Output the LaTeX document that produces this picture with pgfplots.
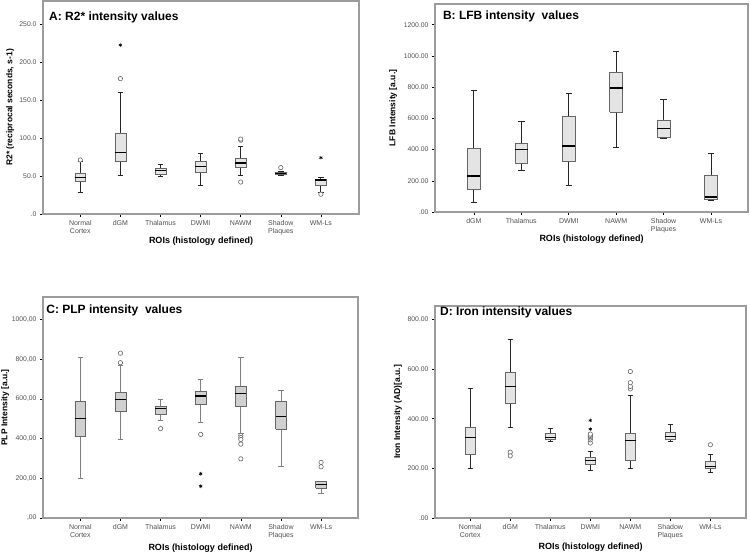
\documentclass[border=0pt]{standalone}
\usepackage{pgfplots}
\pgfplotsset{compat=1.18}
\usepackage{fontspec}
\setmainfont{Liberation Sans}
\definecolor{boxA}{HTML}{E4E4E4}
\definecolor{boxC}{HTML}{D0D0D0}
\definecolor{frame}{HTML}{9C9C9C}
\definecolor{tlab}{HTML}{505050}
\pgfplotsset{
  panel/.style={scale only axis, anchor=south west,
    axis line style={draw=frame, line width=1.3pt},
    tick align=outside, tick pos=left,
    major tick length=3pt, tick style={black, line width=0.5pt},
    /pgf/number format/assume math mode=true,
    xticklabel style={align=center, font=\fontsize{7}{7.6}\selectfont, text=tlab},
    yticklabel style={font=\fontsize{6.8}{7.4}\selectfont, text=tlab},
    xlabel style={font=\fontsize{9}{10}\selectfont\bfseries, anchor=center},
    ylabel style={font=\fontsize{8.5}{10}\selectfont\bfseries, anchor=center},
  },
  Awhisk/.style={draw=black!85, line width=1pt, mark=none},
  Cwhisk/.style={draw=black!50, line width=0.7pt, mark=none},
  Abox/.style={draw=black!60, fill=boxA, line width=0.6pt, mark=none, line join=miter},
  Cbox/.style={draw=black!60, fill=boxC, line width=0.6pt, mark=none, line join=miter},
  med/.style={draw=black, line width=1.3pt, mark=none},
  circ/.style={only marks, mark=*, mark size=2.2pt, mark options={draw=black!60, fill=white, line width=0.6pt}},
  star/.style={only marks, mark=asterisk, mark size=1.8pt, mark options={draw=black, line width=0.6pt}},
}
% #1 style prefix, #2 position, #3 lower whisker, #4 Q1, #5 median, #6 Q3, #7 upper whisker
\newcommand{\bx}[7]{%
  \pgfmathsetmacro\xl{#2-0.135}\pgfmathsetmacro\xr{#2+0.135}%
  \pgfmathsetmacro\wl{#2-0.068}\pgfmathsetmacro\wr{#2+0.068}%
  \edef\tmp{%
    \noexpand\addplot[#1whisk] coordinates {(#2,#3) (#2,#4)};
    \noexpand\addplot[#1whisk] coordinates {(#2,#6) (#2,#7)};
    \noexpand\addplot[#1whisk] coordinates {(\wl,#3) (\wr,#3)};
    \noexpand\addplot[#1whisk] coordinates {(\wl,#7) (\wr,#7)};
    \noexpand\addplot[#1box] coordinates {(\xl,#4) (\xr,#4) (\xr,#6) (\xl,#6) (\xl,#4)};
    \noexpand\addplot[med] coordinates {(\xl,#5) (\xr,#5)};
  }\tmp}
\begin{document}
\begin{tikzpicture}
\useasboundingbox (0,0) rectangle (750pt,553pt);
% ---------------- A
\begin{axis}[panel, at={(43pt,339pt)}, width=316pt, height=213pt,
  xmin=0.07, xmax=7.95, ymin=0, ymax=280,
  xtick={1,...,7}, xticklabels={{Normal\\Cortex},dGM,Thalamus,DWMI,NAWM,{Shadow\\Plaques},WM-Ls},
  ytick={0,50,...,250}, yticklabels={.0,50.0,100.0,150.0,200.0,250.0},
  xlabel={ROIs (histology defined)}, xlabel style={at={(axis description cs:0.5,-0.126)}},
  ylabel={R2* (reciprocal seconds, s-1)}, ylabel style={at={(axis description cs:-0.104,0.5)}}]
\bx{A}{1}{28}{43}{48}{54}{69}
\bx{A}{2}{51}{69}{81}{106.5}{160}
\bx{A}{3}{49}{52}{57}{59.5}{65}
\bx{A}{4}{37}{55}{62}{69}{80}
\bx{A}{5}{50}{61}{67}{73}{89}
\bx{A}{6}{51}{52}{53.5}{55}{56}
\bx{A}{7}{28}{38}{44.5}{46}{47.5}
\addplot[circ] coordinates {(1,71) (2,178) (5,97) (5,98.5) (5,42) (6,61) (7,26)};
\addplot[star] coordinates {(2,222) (7,74)};
\node[anchor=west, inner sep=0pt, font=\fontsize{12}{14}\selectfont\bfseries] at (axis description cs:0.019,0.925) {A: R2* intensity values};
\end{axis}
% ---------------- B
\begin{axis}[panel, at={(435pt,341pt)}, width=313pt, height=208pt,
  xmin=0.18, xmax=6.78, ymin=0, ymax=1333,
  xtick={1,...,6}, xticklabels={dGM,Thalamus,DWMI,NAWM,{Shadow\\Plaques},WM-Ls},
  ytick={0,200,...,1200}, yticklabels={.00,200.00,400.00,600.00,800.00,1000.00,1200.00},
  xlabel={ROIs (histology defined)}, xlabel style={at={(axis description cs:0.5,-0.13)}},
  ylabel={LFB Intensity [a.u.]}, ylabel style={at={(axis description cs:-0.134,0.5)}}]
\bx{A}{1}{62}{143}{230}{405}{778}
\bx{A}{2}{265}{315}{400}{440}{580}
\bx{A}{3}{172}{328}{422}{615}{758}
\bx{A}{4}{415}{640}{795}{895}{1030}
\bx{A}{5}{468}{480}{535}{590}{720}
\bx{A}{6}{75}{80}{97}{238}{372}
\node[anchor=west, inner sep=0pt, font=\fontsize{12}{14}\selectfont\bfseries] at (axis description cs:0.025,0.939) {B: LFB intensity\ \ values};
\end{axis}
% ---------------- C
\begin{axis}[panel, at={(43pt,35pt)}, width=315pt, height=221pt,
  xmin=0.07, xmax=7.92, ymin=0, ymax=1113,
  xtick={1,...,7}, xticklabels={{Normal\\Cortex},dGM,Thalamus,DWMI,NAWM,{Shadow\\Plaques},WM-Ls},
  ytick={0,200,...,1000}, yticklabels={{,00},{200,00},{400,00},{600,00},{800,00},{1000,00}},
  xlabel={ROIs (histology defined)}, xlabel style={at={(axis description cs:0.5,-0.136)}},
  ylabel={PLP Intensity [a.u.]}, ylabel style={at={(axis description cs:-0.12,0.5)}}]
\bx{C}{1}{200}{410}{502}{587}{808}
\bx{C}{2}{395}{535}{595}{633}{770}
\bx{C}{3}{490}{522}{550}{565}{600}
\bx{C}{4}{482}{572}{615}{637}{698}
\bx{C}{5}{428}{565}{627}{665}{808}
\bx{C}{6}{258}{447}{510}{590}{645}
\bx{C}{7}{122}{152}{168}{183}{185}
\addplot[circ] coordinates {(2,782) (2,830) (3,450) (4,421) (5,416) (5,405) (5,395) (5,372) (5,298) (7,258) (7,280)};
\addplot[star] coordinates {(4,223) (4,160)};
\node[anchor=west, inner sep=0pt, font=\fontsize{12}{14}\selectfont\bfseries] at (axis description cs:0.01,0.941) {C: PLP intensity\ \ values};
\end{axis}
% ---------------- D
\begin{axis}[panel, at={(435pt,35pt)}, width=311pt, height=212pt,
  xmin=0.12, xmax=7.89, ymin=0, ymax=854,
  xtick={1,...,7}, xticklabels={{Normal\\Cortex},dGM,Thalamus,DWMI,NAWM,{Shadow\\Plaques},WM-Ls},
  ytick={0,200,...,800}, yticklabels={.00,200.00,400.00,600.00,800.00},
  xlabel={ROIs (histology defined)}, xlabel style={at={(axis description cs:0.5,-0.137)}},
  ylabel={Iron Intensity (AD)[a.u.]}, ylabel style={at={(axis description cs:-0.119,0.5)}}]
\bx{A}{1}{200}{258}{323}{367}{520}
\bx{A}{2}{365}{462}{530}{588}{720}
\bx{A}{3}{310}{318}{325}{342}{360}
\bx{A}{4}{190}{217}{231}{245}{268}
\bx{A}{5}{198}{233}{311}{342}{492}
\bx{A}{6}{310}{318}{328}{345}{378}
\bx{A}{7}{185}{200}{208}{230}{255}
\addplot[circ] coordinates {(2,265) (2,250) (4,302) (4,315) (4,322) (4,328) (4,333) (4,338) (5,520) (5,530) (5,545) (5,590) (7,295)};
\addplot[star] coordinates {(4,358) (4,393)};
\node[anchor=west, inner sep=0pt, font=\fontsize{12}{14}\selectfont\bfseries] at (axis description cs:0.016,0.972) {D: Iron intensity values};
\end{axis}
\end{tikzpicture}
\end{document}
